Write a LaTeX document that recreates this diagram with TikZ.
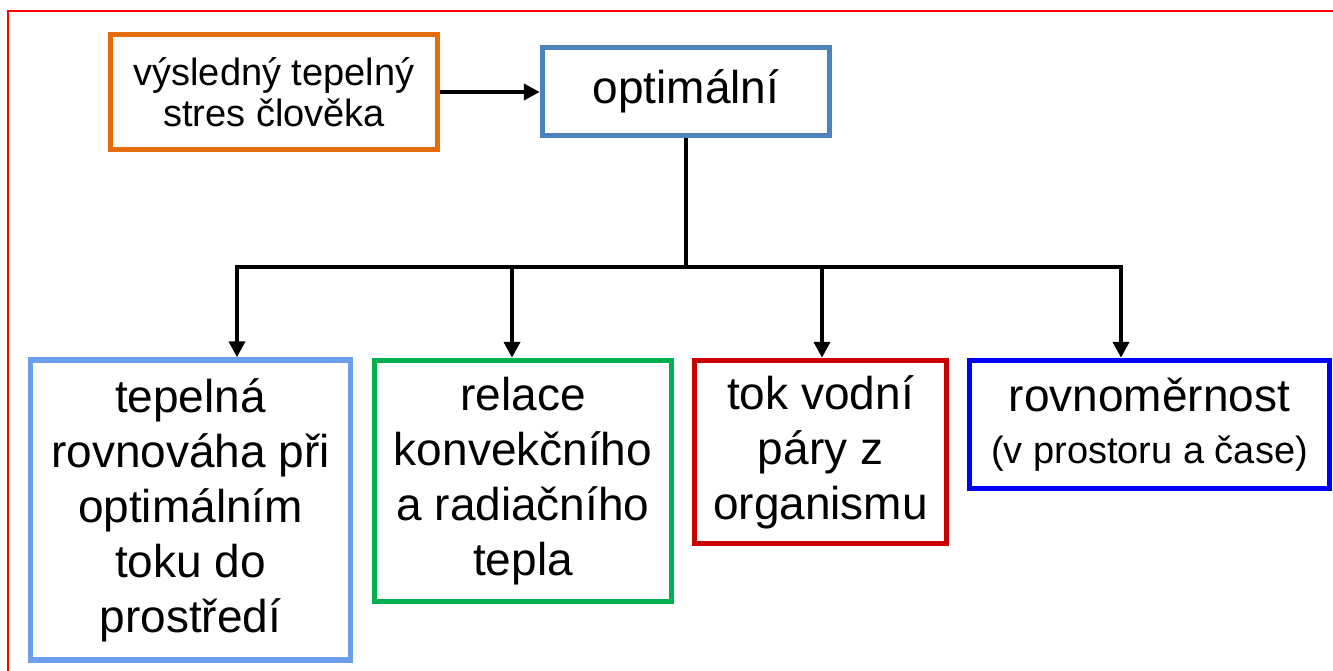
\documentclass[tikz,border=0pt]{standalone}
\usepackage{fontspec}
\setmainfont{Liberation Sans}
\usetikzlibrary{arrows.meta}
\definecolor{corange}{RGB}{228,108,10}
\definecolor{cblueopt}{RGB}{79,129,189}
\definecolor{clight}{RGB}{109,158,235}
\definecolor{cgreen}{RGB}{0,176,80}
\definecolor{cred}{RGB}{204,0,0}
\definecolor{cblue}{RGB}{0,0,255}
\tikzset{
  box/.style={draw, line width=5.5pt, rectangle, inner sep=0pt, align=center, fill=white,
    font=\fontsize{46}{55}\selectfont},
  smallbox/.style={box, font=\fontsize{38}{41}\selectfont},
  conn/.style={line width=4.5pt, black},
  arr/.style={conn, -{Triangle[length=16pt,width=16pt]}},
}
\begin{document}
\begin{tikzpicture}[x=1pt,y=-1pt]
\useasboundingbox (0,0) rectangle (1333,671);
\fill[white] (0,0) rectangle (1333,671);
% red frame
\draw[red, line width=2pt] (1333,11) -- (8,11) -- (8,671);
% nodes
\node[smallbox, draw=corange, minimum width=327pt, minimum height=115pt] (stres) at (274,92)
  {výsledný tepelný\\stres člověka};
\node[box, draw=cblueopt, minimum width=287pt, minimum height=88pt] (opt) at (686,91.5)
  {optimální};
\node[box, draw=clight, minimum width=320pt, minimum height=300pt] (b1) at (190.5,510)
  {tepelná\\rovnováha při\\optimálním\\toku do\\prostředí};
\node[box, draw=cgreen, minimum width=297pt, minimum height=241pt] (b2) at (523,481)
  {relace\\konvekčního\\a radiačního\\tepla};
\node[box, draw=cred, minimum width=252pt, minimum height=183pt] (b3) at (820.5,452)
  {tok vodní\\páry z\\organismu};
\node[box, draw=cblue, minimum width=360pt, minimum height=128pt] (b4) at (1149.5,424.5)
  {rovnoměrnost\\[-3pt]{\fontsize{38}{41}\selectfont (v prostoru a čase)}};
% connectors
\draw[arr] (stres.east |- 0,92) -- (opt.west |- 0,92);
\coordinate (j) at (686,267);
\coordinate (t1) at (237,267);
\coordinate (t2) at (512,267);
\coordinate (t3) at (822,267);
\coordinate (t4) at (1121,267);
\draw[conn] (opt.south) -- (j);
\draw[conn, line cap=rect] (t1) -- (t4);
\draw[arr] (t1) -- (t1 |- b1.north);
\draw[arr] (t2) -- (t2 |- b2.north);
\draw[arr] (t3) -- (t3 |- b3.north);
\draw[arr] (t4) -- (t4 |- b4.north);
\end{tikzpicture}
\end{document}
